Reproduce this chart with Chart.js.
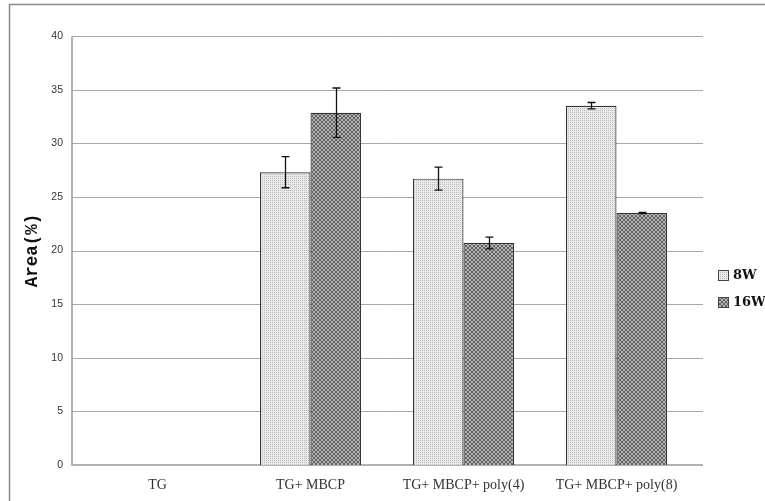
<!DOCTYPE html>
<html>
<head>
<meta charset="utf-8">
<script src="https://cdn.jsdelivr.net/npm/chart.js@4"></script>
<style>
  html, body { margin: 0; padding: 0; background: #fff; }
  #wrap { width: 765px; height: 501px; }
</style>
</head>
<body>
<div id="wrap"><canvas id="areaChart" width="765" height="501"></canvas></div>
<script>
// chart data
const categories = ['TG', 'TG+ MBCP', 'TG+ MBCP+ poly(4)', 'TG+ MBCP+ poly(8)'];
const seriesNames = ['8W', '16W'];
const area8W = [null, 27.3, 26.7, 33.5];
const err8W = [null, 1.45, 1.07, 0.3];
const area16W = [null, 32.85, 20.7, 23.5];
const err16W = [null, 2.3, 0.55, 0.05];
const yTicks = [0, 5, 10, 15, 20, 25, 30, 35, 40];

// plot frame is a bit wider than the bar area (Excel style)
const frameLeft = 72;
const frameRight = 703;

// little 4x4 fill patterns like the original
function makePattern(bg, fg, cells) {
    const c = document.createElement('canvas');
    c.width = 4; c.height = 4;
    const g = c.getContext('2d');
    g.fillStyle = bg;
    g.fillRect(0, 0, 4, 4);
    g.fillStyle = fg;
    cells.forEach(p => g.fillRect(p[0], p[1], 1, 1));
    return g.createPattern(c, 'repeat');
}
const fill8W = makePattern('#e9e9e9', '#bcbcbc', [[0, 0], [2, 2], [2, 0], [0, 2]]);
const fill16W = makePattern('#b4b4b4', '#626262', [[0, 0], [1, 1], [2, 2], [3, 3], [3, 0], [2, 1], [1, 2], [0, 3]]);

// outer frame, grid lines and axis lines
const framePlugin = {
    id: 'frame',
    beforeDatasetsDraw(chart) {
        const ctx = chart.ctx;
        const y = chart.scales.y;
        ctx.save();
        ctx.strokeStyle = '#8a8a8a';
        ctx.lineWidth = 1.5;
        ctx.strokeRect(9.5, 4.5, 900, 700);

        ctx.strokeStyle = '#a8a8a8';
        ctx.lineWidth = 1;
        yTicks.forEach(v => {
            if (v === 0) return;
            const py = Math.round(y.getPixelForValue(v)) + 0.5;
            ctx.beginPath();
            ctx.moveTo(frameLeft, py); ctx.lineTo(frameRight, py);
            ctx.stroke();
        });
        const top = Math.round(y.getPixelForValue(40)) + 0.5;
        const bot = Math.round(y.getPixelForValue(0));
        ctx.strokeStyle = '#999';
        ctx.lineWidth = 1.5;
        ctx.beginPath();
        ctx.moveTo(frameLeft, top); ctx.lineTo(frameLeft, bot);
        ctx.lineTo(frameRight, bot);
        ctx.stroke();
        ctx.restore();
    }
};

// error bars from the err arrays
const errorBarPlugin = {
    id: 'errorBars',
    afterDatasetsDraw(chart) {
        const ctx = chart.ctx;
        const y = chart.scales.y;
        const errs = [err8W, err16W];
        ctx.save();
        ctx.strokeStyle = '#111';
        ctx.lineWidth = 1.3;
        chart.data.datasets.forEach((ds, i) => {
            const meta = chart.getDatasetMeta(i);
            meta.data.forEach((bar, j) => {
                const v = ds.data[j];
                const e = errs[i][j];
                if (v == null || e == null) return;
                const x = Math.round(bar.x) + 0.5;
                const top = y.getPixelForValue(v + e);
                const bot = y.getPixelForValue(v - e);
                ctx.beginPath();
                ctx.moveTo(x, top); ctx.lineTo(x, bot);
                ctx.moveTo(x - 4, top); ctx.lineTo(x + 4, top);
                ctx.moveTo(x - 4, bot); ctx.lineTo(x + 4, bot);
                ctx.stroke();
            });
        });
        ctx.restore();
    }
};

// legend on the right, drawn by hand
const sideLegendPlugin = {
    id: 'sideLegend',
    afterDraw(chart) {
        const ctx = chart.ctx;
        const x0 = 718;
        ctx.save();
        ctx.font = 'bold 13px "DejaVu Serif", serif';
        ctx.textBaseline = 'middle';
        chart.data.datasets.forEach((ds, i) => {
            const yy = 275 + i * 27;
            ctx.fillStyle = ds.backgroundColor;
            ctx.fillRect(x0, yy - 5, 11, 11);
            ctx.strokeStyle = '#444';
            ctx.lineWidth = 1;
            ctx.strokeRect(x0 + 0.5, yy - 4.5, 10, 10);
            ctx.fillStyle = '#111';
            ctx.fillText(ds.label, x0 + 15, yy + 1);
        });
        ctx.restore();
    }
};

const ctx = document.getElementById('areaChart').getContext('2d');
new Chart(ctx, {
    type: 'bar',
    data: {
        labels: categories,
        datasets: [
            { label: seriesNames[0], data: area8W, backgroundColor: fill8W, borderColor: '#333', borderWidth: 1.2 },
            { label: seriesNames[1], data: area16W, backgroundColor: fill16W, borderColor: '#333', borderWidth: 1.2 }
        ]
    },
    options: {
        responsive: false,
        animation: false,
        layout: { padding: { left: 10, right: 72, top: 36, bottom: 6 } },
        datasets: { bar: { categoryPercentage: 0.66, barPercentage: 1.0 } },
        plugins: {
            legend: { display: false },
            tooltip: { enabled: false }
        },
        scales: {
            x: {
                grid: { display: false },
                border: { display: false },
                ticks: { color: '#333', padding: 4, font: { family: '"Liberation Serif", serif', size: 14 } },
                afterFit(scale) { scale.height = 30; }
            },
            y: {
                min: 0, max: 40,
                afterBuildTicks(scale) { scale.ticks = yTicks.map(v => ({ value: v })); },
                grid: { display: false, drawTicks: false },
                border: { display: false },
                ticks: { color: '#333', padding: 18, font: { family: '"Liberation Sans", Arial, sans-serif', size: 10.5 } },
                title: {
                    display: true,
                    text: 'Area(%)',
                    color: '#111',
                    padding: { top: 12, bottom: 0 },
                    font: { family: '"Liberation Mono", "DejaVu Sans Mono", monospace', size: 17.5, weight: 'bold' }
                },
                afterFit(scale) { scale.width = 71; }
            }
        }
    },
    plugins: [framePlugin, errorBarPlugin, sideLegendPlugin]
});
</script>
</body>
</html>
